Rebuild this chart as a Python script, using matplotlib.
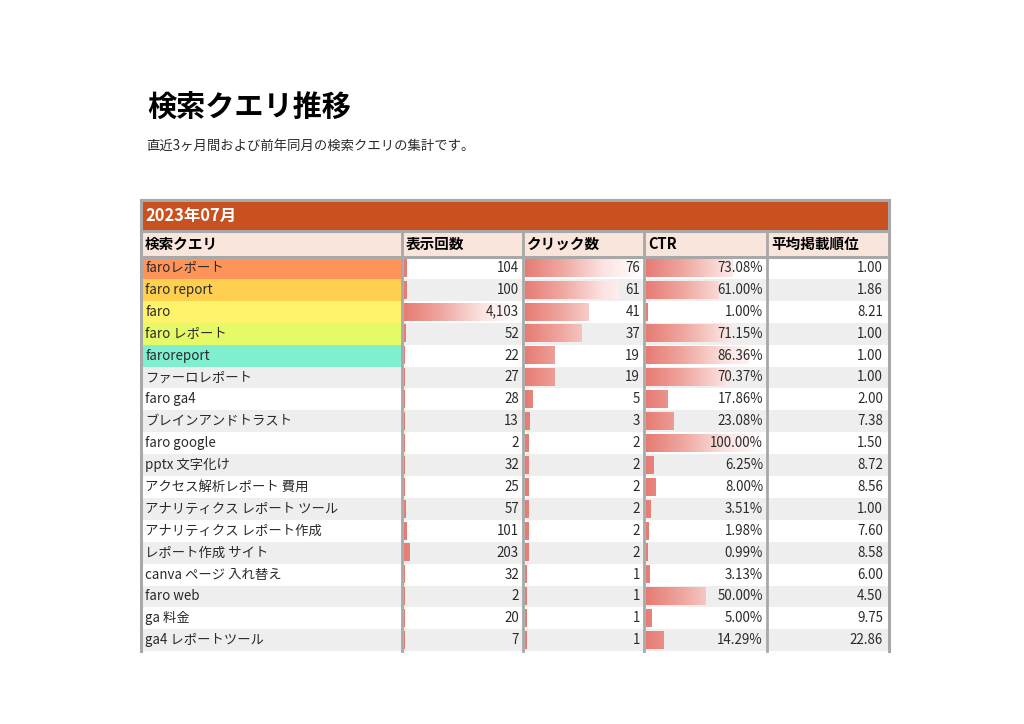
import numpy as np
import matplotlib
matplotlib.use("Agg")
import matplotlib.pyplot as plt
from matplotlib.patches import Rectangle
from matplotlib.colors import LinearSegmentedColormap

plt.rcParams['font.family'] = ['Noto Sans CJK JP', 'DejaVu Sans']

# %% データ
title = "検索クエリ推移"
subtitle = "直近3ヶ月間および前年同月の検索クエリの集計です。"
month_label = "2023年07月"
columns = ["検索クエリ", "表示回数", "クリック数", "CTR", "平均掲載順位"]

queries = ["faroレポート", "faro report", "faro", "faro レポート", "faroreport",
           "ファーロレポート", "faro ga4", "ブレインアンドトラスト", "faro google",
           "pptx 文字化け", "アクセス解析レポート 費用", "アナリティクス レポート ツール",
           "アナリティクス レポート作成", "レポート作成 サイト", "canva ページ 入れ替え",
           "faro web", "ga 料金", "ga4 レポートツール"]
impressions = [104, 100, 4103, 52, 22, 27, 28, 13, 2, 32, 25, 57, 101, 203, 32, 2, 20, 7]
clicks = [76, 61, 41, 37, 19, 19, 5, 3, 2, 2, 2, 2, 2, 2, 1, 1, 1, 1]
ctr = [73.08, 61.00, 1.00, 71.15, 86.36, 70.37, 17.86, 23.08, 100.00, 6.25,
       8.00, 3.51, 1.98, 0.99, 3.13, 50.00, 5.00, 14.29]
position = [1.00, 1.86, 8.21, 1.00, 1.00, 1.00, 2.00, 7.38, 1.50, 8.72,
            8.56, 1.00, 7.60, 8.58, 6.00, 4.50, 9.75, 22.86]

top_colors = ["#ff945a", "#ffd04f", "#fff36c", "#e6fa68", "#80efd0"]

# %% レイアウト (ピクセル)
W, H = 1024, 724
fig = plt.figure(figsize=(W / 100, H / 100), dpi=100)
ax = fig.add_axes([0, 0, 1, 1])
ax.set_xlim(0, W)
ax.set_ylim(H, 0)
ax.axis("off")

col_x = [141, 402, 523, 644, 767, 889]
band_top, band_bot = 200, 231
head_bot = 257
row_h = 21.9
n = len(queries)
table_bot = head_bot + n * row_h
border = "#a8a8a8"
txt = "#2a2a2a"

ax.text(147, 107, title, fontsize=21, fontweight="bold", va="center", ha="left")
ax.text(146, 146, subtitle, fontsize=9.6, va="center", ha="left", color=txt)

# 月の帯
ax.add_patch(Rectangle((col_x[0], band_top), col_x[-1] - col_x[0], band_bot - band_top,
                       facecolor="#c8511f", edgecolor="none"))
ax.text(145, 216, month_label, fontsize=11.8, fontweight="bold", color="white", va="center")

# ヘッダー
ax.add_patch(Rectangle((col_x[0], band_bot), col_x[-1] - col_x[0], head_bot - band_bot,
                       facecolor="#fae5dc", edgecolor="none"))
for i, c in enumerate(columns):
    ax.text(col_x[i] + 4, 244, c, fontsize=10.5, fontweight="bold", va="center", ha="left")

# 行
for i in range(n):
    y0 = head_bot + i * row_h
    bg = "white" if i % 2 == 0 else "#eeeeee"
    ax.add_patch(Rectangle((col_x[0], y0), col_x[-1] - col_x[0], row_h,
                           facecolor=bg, edgecolor="none"))
    if i < len(top_colors):
        ax.add_patch(Rectangle((col_x[0], y0), col_x[1] - col_x[0], row_h,
                               facecolor=top_colors[i], edgecolor="none"))

# データバー (セル幅に対するグラデーション)
cmap = LinearSegmentedColormap.from_list("bar", ["#e67c73", "#f0aaa4", "#fbe3e1", "#ffffff"])
bar_cols = [(1, impressions), (2, clicks), (3, ctr)]
for ci, vals in bar_cols:
    x0 = col_x[ci] + 2
    x1 = col_x[ci + 1] - 2
    bax = fig.add_axes([x0 / W, 1 - table_bot / H, (x1 - x0) / W, (table_bot - head_bot) / H])
    bax.axis("off")
    bax.patch.set_alpha(0)
    vmax = max(vals)
    for i, v in enumerate(vals):
        grad = np.linspace(0, v / vmax, 200).reshape(1, -1)
        bax.imshow(grad, cmap=cmap, vmin=0, vmax=1, aspect="auto",
                   extent=(0, v, i + 0.9, i + 0.1), interpolation="bilinear")
    bax.set_xlim(0, vmax)
    bax.set_ylim(n, 0)

# テキスト (バーの上に表示)
tax = fig.add_axes([0, 0, 1, 1])
tax.set_xlim(0, W)
tax.set_ylim(H, 0)
tax.axis("off")
tax.patch.set_alpha(0)
fs = 9.6
for i in range(n):
    yc = head_bot + i * row_h + row_h / 2
    tax.text(col_x[0] + 4, yc, queries[i], fontsize=fs, va="center", ha="left", color=txt)
    tax.text(col_x[2] - 4, yc, f"{impressions[i]:,}", fontsize=fs, va="center", ha="right", color=txt)
    tax.text(col_x[3] - 4, yc, f"{clicks[i]:,}", fontsize=fs, va="center", ha="right", color=txt)
    tax.text(col_x[4] - 4, yc, f"{ctr[i]:.2f}%", fontsize=fs, va="center", ha="right", color=txt)
    tax.text(col_x[5] - 6, yc, f"{position[i]:.2f}", fontsize=fs, va="center", ha="right", color=txt)

# 罫線
tax.plot([col_x[0], col_x[-1]], [band_top, band_top], color=border, lw=2.2)
tax.plot([col_x[0], col_x[-1]], [band_bot, band_bot], color=border, lw=2.2)
tax.plot([col_x[0], col_x[-1]], [head_bot, head_bot], color=border, lw=2.2)
tax.plot([col_x[0], col_x[0]], [band_top, table_bot], color=border, lw=2.2)
tax.plot([col_x[-1], col_x[-1]], [band_top, table_bot], color=border, lw=2.2)
for x in col_x[1:-1]:
    tax.plot([x, x], [band_bot, table_bot], color=border, lw=2.0)

fig.savefig("out.png", dpi=100)
